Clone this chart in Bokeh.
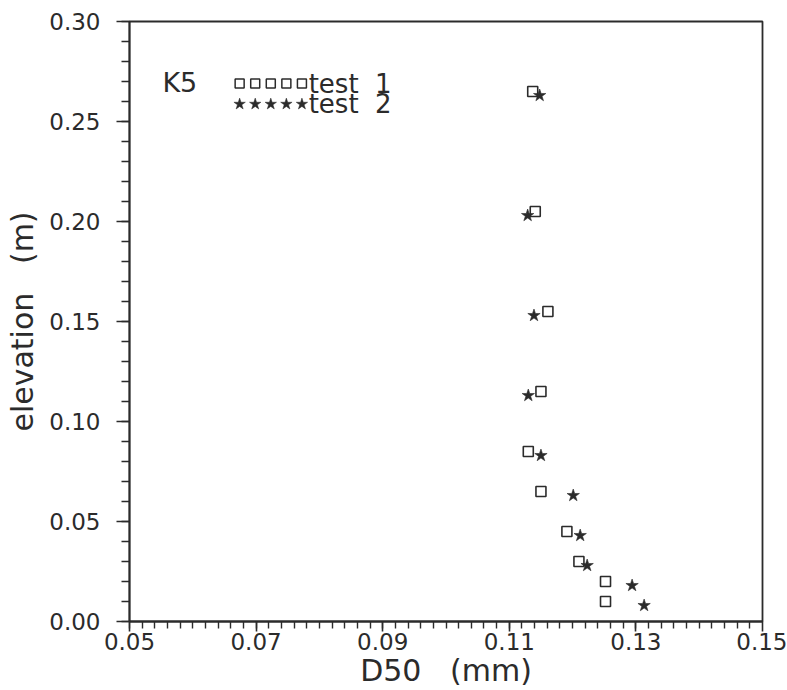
from bokeh.plotting import figure
from bokeh.models import FixedTicker, PrintfTickFormatter, Label, Range1d
from bokeh.embed import file_html
from bokeh.resources import INLINE

# ---- data ----
test1_d50 = [0.1137, 0.1141, 0.1161, 0.1150, 0.1130, 0.1150, 0.1191, 0.1210, 0.1252, 0.1252]
test1_elev = [0.265, 0.205, 0.155, 0.115, 0.085, 0.065, 0.045, 0.030, 0.020, 0.010]
test2_d50 = [0.1148, 0.1129, 0.1139, 0.1130, 0.1150, 0.1201, 0.1212, 0.1223, 0.1294, 0.1313]
test2_elev = [0.263, 0.203, 0.153, 0.113, 0.083, 0.063, 0.043, 0.028, 0.018, 0.008]

x_ticks = [0.05, 0.07, 0.09, 0.11, 0.13, 0.15]
y_ticks = [0.00, 0.05, 0.10, 0.15, 0.20, 0.25, 0.30]
series_names = ["test\u00a0\u00a01", "test\u00a0\u00a02"]
site_name = "K5"

INK = "#2b2b2b"
FONT = "DejaVu Sans"
SP3 = "\u00a0\u00a0\u00a0"

p = figure(width=787, height=690, output_backend="svg", toolbar_location=None,
           x_range=Range1d(0.05, 0.15), y_range=Range1d(0.0, 0.30),
           min_border_left=129, min_border_right=25, min_border_top=21, min_border_bottom=69)
p.grid.visible = False
p.outline_line_color = INK
p.outline_line_width = 1.8
p.background_fill_color = "white"
p.border_fill_color = "white"

# x axis
xa = p.xaxis[0]
xa.ticker = FixedTicker(ticks=x_ticks, minor_ticks=[0.05 + 0.002 * i for i in range(51)])
xa.formatter = PrintfTickFormatter(format="%.2f")
xa.major_tick_in = 0
xa.major_tick_out = 10
xa.minor_tick_in = 0
xa.minor_tick_out = 7
xa.major_label_standoff = 1
xa.axis_label = "D50" + SP3 + "(mm)"
xa.axis_label_standoff = 0

# y axis
ya = p.yaxis[0]
ya.ticker = FixedTicker(ticks=y_ticks, minor_ticks=[0.01 * i for i in range(31)])
ya.formatter = PrintfTickFormatter(format="%.2f")
ya.major_tick_in = 0
ya.major_tick_out = 13
ya.minor_tick_in = 0
ya.minor_tick_out = 8
ya.major_label_standoff = 16
ya.axis_label = "elevation" + SP3 + "(m)"
ya.axis_label_standoff = 6

for ax in (xa, ya):
    ax.axis_line_color = INK
    ax.axis_line_width = 1.8
    ax.major_tick_line_color = INK
    ax.major_tick_line_width = 1.6
    ax.minor_tick_line_color = INK
    ax.minor_tick_line_width = 1.4
    ax.major_label_text_font = FONT
    ax.major_label_text_font_size = "23px"
    ax.major_label_text_color = INK
    ax.axis_label_text_font = FONT
    ax.axis_label_text_font_size = "30px"
    ax.axis_label_text_font_style = "normal"
    ax.axis_label_text_color = INK

# data
p.scatter(test1_d50, test1_elev, marker="square", size=10, fill_color="white",
          line_color=INK, line_width=1.6)
p.scatter(test2_d50, test2_elev, marker="star", size=13, fill_color=INK,
          line_color=INK, line_width=0.6)

# legend block
lx0, ldx = 0.0674, 0.00246
rows_y = [0.269, 0.2587]
p.scatter([lx0 + ldx * i for i in range(5)], [rows_y[0]] * 5, marker="square", size=9,
          fill_color="white", line_color=INK, line_width=1.5)
p.scatter([lx0 + ldx * i for i in range(5)], [rows_y[1]] * 5, marker="star", size=12,
          fill_color=INK, line_color=INK, line_width=0.5)
for name, yy in zip(series_names, rows_y):
    p.add_layout(Label(x=0.0783, y=yy, text=name, text_font=FONT, text_font_size="26px",
                       text_color=INK, text_baseline="middle", text_align="left"))
p.add_layout(Label(x=0.0552, y=0.2695, text=site_name, text_font=FONT, text_font_size="27px",
                   text_color=INK, text_baseline="middle", text_align="left"))

open("out.html", "w").write(file_html(p, INLINE))
